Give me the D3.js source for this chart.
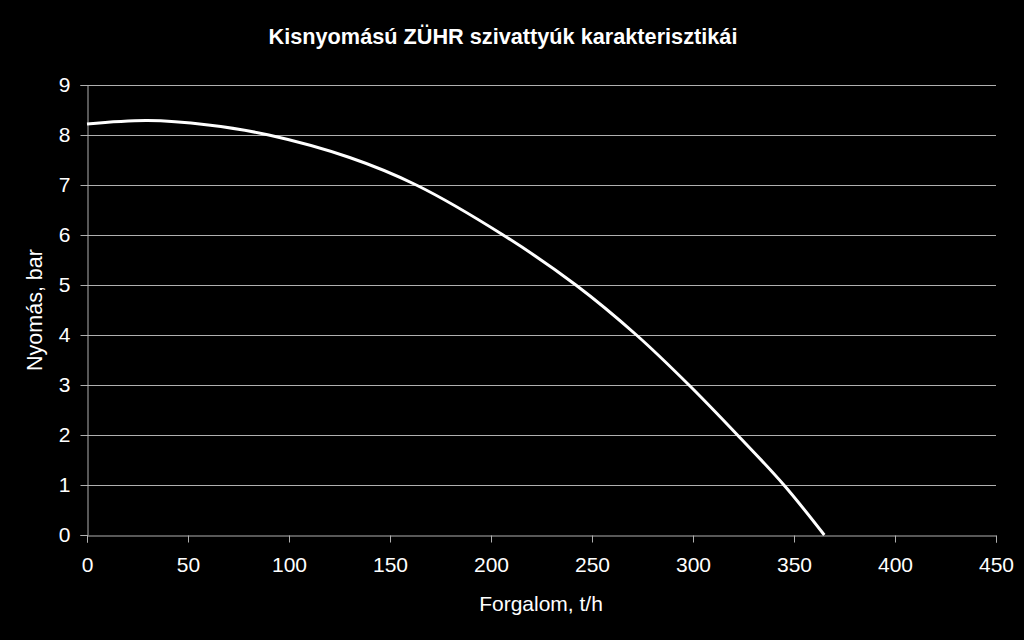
<!DOCTYPE html>
<html>
<head>
<meta charset="utf-8">
<script src="https://cdn.jsdelivr.net/npm/d3@7"></script>
<style>
  html, body { margin: 0; padding: 0; background: #000; }
  svg { display: block; font-family: "Liberation Sans", Arial, sans-serif; }
</style>
</head>
<body>
<svg width="1024" height="640"></svg>
<script>
// values
const flow = [0, 30, 60, 90, 130, 163, 206, 242, 272, 298, 322, 345, 365];
const pressure = [8.22, 8.29, 8.2, 8.0, 7.55, 7.0, 6.0, 5.0, 4.0, 3.0, 2.0, 1.0, 0];
const xTicks = [0, 50, 100, 150, 200, 250, 300, 350, 400, 450];
const yTicks = [0, 1, 2, 3, 4, 5, 6, 7, 8, 9];

const title = "Kisnyomású ZÜHR szivattyúk karakterisztikái";
const xTitle = "Forgalom, t/h";
const yTitle = "Nyomás, bar";

let svg = d3.select("svg");
svg.append("rect").attr("width", 1024).attr("height", 640).attr("fill", "#000");

let margin = { left: 87, right: 28, top: 85, bottom: 105 };
let x = d3.scaleLinear().domain([0, 450]).range([margin.left, 1024 - margin.right]);
let y = d3.scaleLinear().domain([0, 9]).range([640 - margin.bottom, margin.top]);

// horizontal gridlines
svg.append("g")
    .selectAll("line")
    .data(yTicks.filter(d => d > 0))
    .enter()
    .append("line")
    .attr("x1", x(0))
    .attr("x2", x(450))
    .attr("y1", d => Math.round(y(d)) + 0.5)
    .attr("y2", d => Math.round(y(d)) + 0.5)
    .attr("stroke", "#b0b0b0")
    .attr("stroke-width", 1);

// axes
let xAxis = svg.append("g")
    .attr("transform", `translate(0,${Math.round(y(0)) + 0.5})`)
    .call(d3.axisBottom(x).tickValues(xTicks).tickSize(7).tickPadding(15));

let yAxis = svg.append("g")
    .attr("transform", `translate(${Math.round(x(0)) + 0.5},0)`)
    .call(d3.axisLeft(y).tickValues(yTicks).tickSize(7).tickPadding(10));

[xAxis, yAxis].forEach(a => {
    a.select(".domain").attr("stroke", "#b0b0b0");
    a.selectAll(".tick line").attr("stroke", "#b0b0b0");
    a.selectAll(".tick text")
        .attr("fill", "#fff")
        .attr("font-size", 21)
        .attr("font-family", "Liberation Sans, Arial, sans-serif");
});

// pump curve
let line = d3.line()
    .x((d, i) => x(flow[i]))
    .y(d => y(d))
    .curve(d3.curveCatmullRom.alpha(0.5));

svg.append("path")
    .datum(pressure)
    .attr("d", line)
    .attr("fill", "none")
    .attr("stroke", "#fff")
    .attr("stroke-width", 3);

// titles
svg.append("text")
    .attr("x", 503)
    .attr("y", 44)
    .attr("text-anchor", "middle")
    .attr("fill", "#fff")
    .attr("font-size", 21.7)
    .attr("font-weight", "bold")
    .text(title);

svg.append("text")
    .attr("x", 541)
    .attr("y", 611)
    .attr("text-anchor", "middle")
    .attr("fill", "#fff")
    .attr("font-size", 21)
    .text(xTitle);

svg.append("text")
    .attr("transform", "translate(42,310) rotate(-90)")
    .attr("text-anchor", "middle")
    .attr("fill", "#fff")
    .attr("font-size", 21.5)
    .text(yTitle);
</script>
</body>
</html>
